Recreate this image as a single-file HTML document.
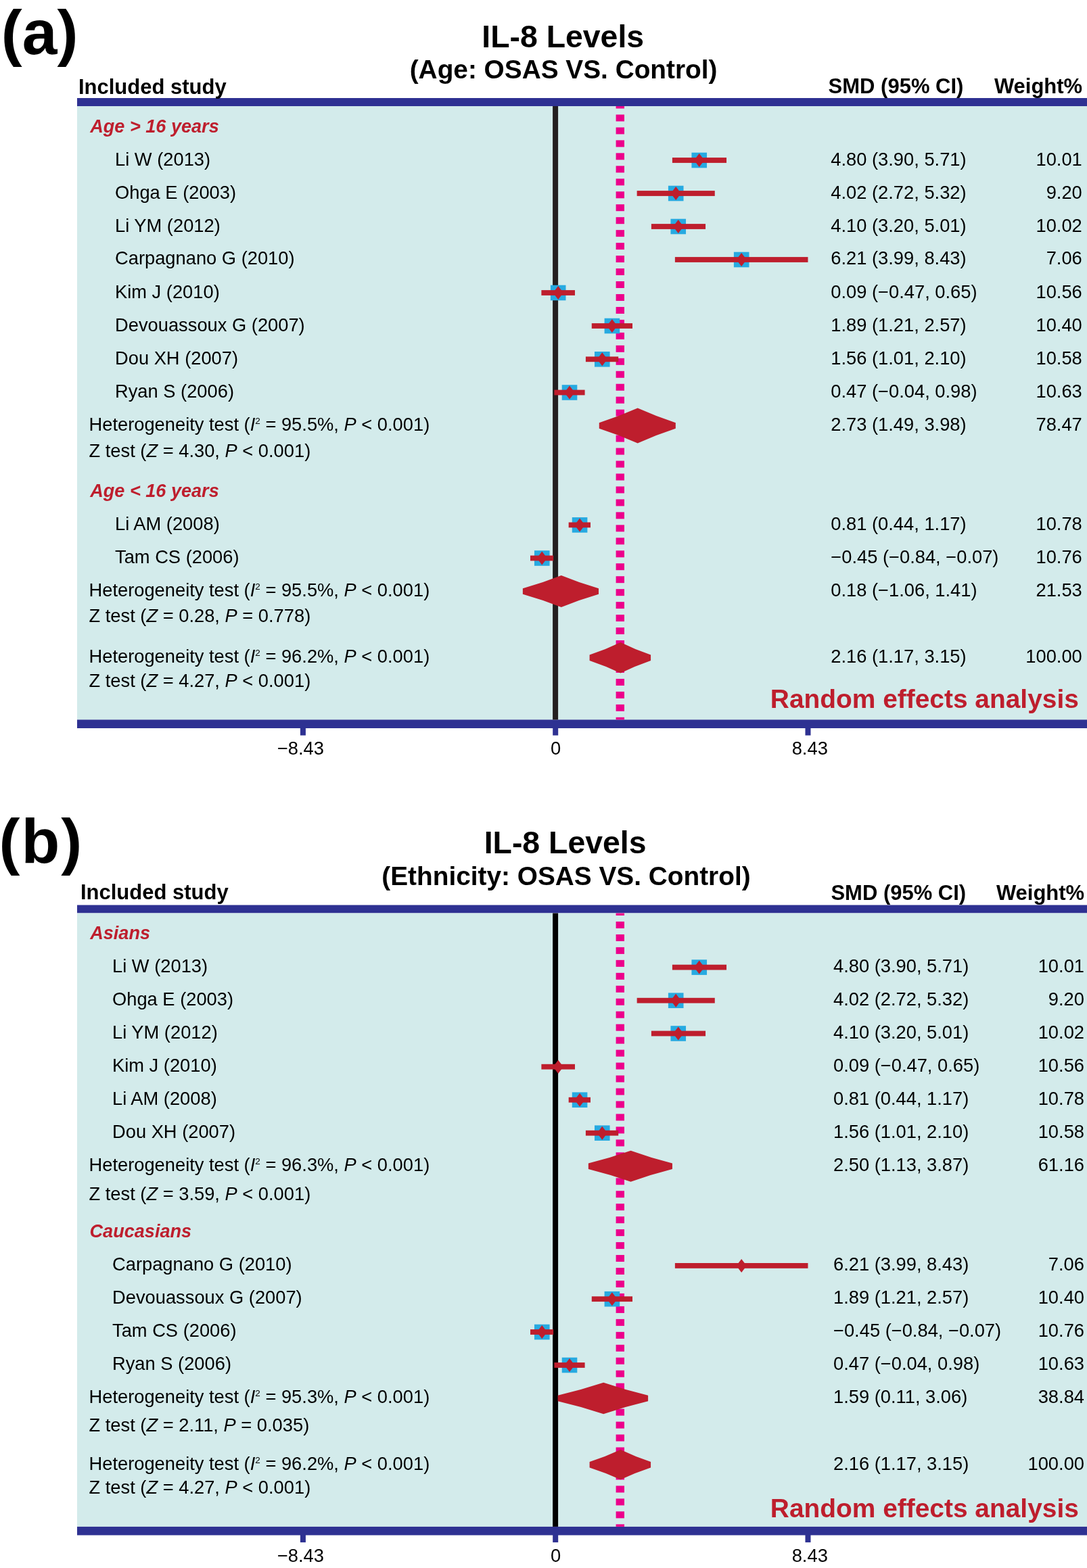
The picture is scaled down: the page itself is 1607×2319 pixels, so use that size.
<!DOCTYPE html>
<html><head><meta charset="utf-8"><title>IL-8 Levels forest plots</title>
<style>html,body{margin:0;padding:0;background:#fff;}body{width:1607px;height:2319px;overflow:hidden;}svg{display:block;}</style>
</head><body>
<svg width="1607" height="2319" viewBox="0 0 1607 2319" font-family="Liberation Sans, Arial, Helvetica, sans-serif">
<rect x="0.00" y="0.00" width="1607.00" height="2319.00" fill="#fff"/>
<rect x="114.00" y="145.00" width="1493.00" height="12.00" fill="#2e3192"/>
<rect x="114.00" y="157.00" width="1493.00" height="907.40" fill="#d3ebeb"/>
<rect x="114.00" y="1064.40" width="1493.00" height="12.60" fill="#2e3192"/>
<rect x="443.92" y="1076.40" width="8.00" height="11.20" fill="#2e3192"/>
<rect x="817.20" y="1076.40" width="8.00" height="11.20" fill="#2e3192"/>
<rect x="1190.48" y="1076.40" width="8.00" height="11.20" fill="#2e3192"/>
<rect x="817.10" y="157.00" width="8.00" height="907.40" fill="#231f20"/>
<g fill="#ec008c">
<rect x="910.6" y="157.00" width="12.4" height="3.50"/>
<rect x="910.6" y="169.47" width="12.4" height="10.00"/>
<rect x="910.6" y="188.43" width="12.4" height="10.00"/>
<rect x="910.6" y="207.40" width="12.4" height="10.00"/>
<rect x="910.6" y="226.36" width="12.4" height="10.00"/>
<rect x="910.6" y="245.33" width="12.4" height="10.00"/>
<rect x="910.6" y="264.29" width="12.4" height="10.00"/>
<rect x="910.6" y="283.25" width="12.4" height="10.00"/>
<rect x="910.6" y="302.22" width="12.4" height="10.00"/>
<rect x="910.6" y="321.18" width="12.4" height="10.00"/>
<rect x="910.6" y="340.15" width="12.4" height="10.00"/>
<rect x="910.6" y="359.11" width="12.4" height="10.00"/>
<rect x="910.6" y="378.08" width="12.4" height="10.00"/>
<rect x="910.6" y="397.04" width="12.4" height="10.00"/>
<rect x="910.6" y="416.01" width="12.4" height="10.00"/>
<rect x="910.6" y="434.97" width="12.4" height="10.00"/>
<rect x="910.6" y="453.94" width="12.4" height="10.00"/>
<rect x="910.6" y="472.90" width="12.4" height="10.00"/>
<rect x="910.6" y="491.87" width="12.4" height="10.00"/>
<rect x="910.6" y="510.83" width="12.4" height="10.00"/>
<rect x="910.6" y="529.80" width="12.4" height="10.00"/>
<rect x="910.6" y="548.76" width="12.4" height="10.00"/>
<rect x="910.6" y="567.73" width="12.4" height="10.00"/>
<rect x="910.6" y="586.69" width="12.4" height="10.00"/>
<rect x="910.6" y="605.66" width="12.4" height="10.00"/>
<rect x="910.6" y="624.62" width="12.4" height="10.00"/>
<rect x="910.6" y="643.59" width="12.4" height="10.00"/>
<rect x="910.6" y="662.55" width="12.4" height="10.00"/>
<rect x="910.6" y="681.52" width="12.4" height="10.00"/>
<rect x="910.6" y="700.49" width="12.4" height="10.00"/>
<rect x="910.6" y="719.45" width="12.4" height="10.00"/>
<rect x="910.6" y="738.42" width="12.4" height="10.00"/>
<rect x="910.6" y="757.38" width="12.4" height="10.00"/>
<rect x="910.6" y="776.35" width="12.4" height="10.00"/>
<rect x="910.6" y="795.31" width="12.4" height="10.00"/>
<rect x="910.6" y="814.28" width="12.4" height="10.00"/>
<rect x="910.6" y="833.24" width="12.4" height="10.00"/>
<rect x="910.6" y="852.21" width="12.4" height="10.00"/>
<rect x="910.6" y="871.17" width="12.4" height="10.00"/>
<rect x="910.6" y="890.14" width="12.4" height="10.00"/>
<rect x="910.6" y="909.10" width="12.4" height="10.00"/>
<rect x="910.6" y="928.07" width="12.4" height="10.00"/>
<rect x="910.6" y="947.03" width="12.4" height="10.00"/>
<rect x="910.6" y="966.00" width="12.4" height="10.00"/>
<rect x="910.6" y="984.96" width="12.4" height="10.00"/>
<rect x="910.6" y="1003.93" width="12.4" height="10.00"/>
<rect x="910.6" y="1022.89" width="12.4" height="10.00"/>
<rect x="910.6" y="1041.86" width="12.4" height="10.00"/>
<rect x="910.6" y="1060.82" width="12.4" height="3.58"/>
</g>
<rect x="1022.44" y="225.70" width="22.60" height="22.60" fill="#27aae1"/>
<rect x="993.89" y="233.10" width="80.15" height="7.80" fill="#be1e2d"/>
<polygon points="1026.14,237.00 1033.74,227.00 1041.34,237.00 1033.74,247.00" fill="#be1e2d"/>
<rect x="987.91" y="274.70" width="22.60" height="22.60" fill="#27aae1"/>
<rect x="941.64" y="282.10" width="115.13" height="7.80" fill="#be1e2d"/>
<polygon points="991.61,286.00 999.21,276.00 1006.81,286.00 999.21,296.00" fill="#be1e2d"/>
<rect x="991.45" y="323.70" width="22.60" height="22.60" fill="#27aae1"/>
<rect x="962.90" y="331.10" width="80.15" height="7.80" fill="#be1e2d"/>
<polygon points="995.15,335.00 1002.75,325.00 1010.35,335.00 1002.75,345.00" fill="#be1e2d"/>
<rect x="1084.88" y="372.70" width="22.60" height="22.60" fill="#27aae1"/>
<rect x="997.88" y="380.10" width="196.60" height="7.80" fill="#be1e2d"/>
<polygon points="1088.58,384.00 1096.18,374.00 1103.78,384.00 1096.18,394.00" fill="#be1e2d"/>
<rect x="813.89" y="421.70" width="22.60" height="22.60" fill="#27aae1"/>
<rect x="800.39" y="429.10" width="49.59" height="7.80" fill="#be1e2d"/>
<polygon points="817.59,433.00 825.19,423.00 832.79,433.00 825.19,443.00" fill="#be1e2d"/>
<rect x="893.59" y="470.70" width="22.60" height="22.60" fill="#27aae1"/>
<rect x="874.78" y="478.10" width="60.22" height="7.80" fill="#be1e2d"/>
<polygon points="897.29,482.00 904.89,472.00 912.49,482.00 904.89,492.00" fill="#be1e2d"/>
<rect x="878.98" y="520.00" width="22.60" height="22.60" fill="#27aae1"/>
<rect x="865.92" y="527.40" width="48.27" height="7.80" fill="#be1e2d"/>
<polygon points="882.68,531.30 890.28,521.30 897.88,531.30 890.28,541.30" fill="#be1e2d"/>
<rect x="830.71" y="569.20" width="22.60" height="22.60" fill="#27aae1"/>
<rect x="819.43" y="576.60" width="45.17" height="7.80" fill="#be1e2d"/>
<polygon points="834.41,580.50 842.01,570.50 849.61,580.50 842.01,590.50" fill="#be1e2d"/>
<rect x="845.77" y="765.10" width="22.60" height="22.60" fill="#27aae1"/>
<rect x="840.68" y="772.50" width="32.32" height="7.80" fill="#be1e2d"/>
<polygon points="849.47,776.40 857.07,766.40 864.67,776.40 857.07,786.40" fill="#be1e2d"/>
<rect x="789.97" y="814.20" width="22.60" height="22.60" fill="#27aae1"/>
<rect x="784.00" y="821.60" width="34.10" height="7.80" fill="#be1e2d"/>
<polygon points="793.67,825.50 801.27,815.50 808.87,825.50 801.27,835.50" fill="#be1e2d"/>
<path d="M 885.78 625.30 Q 914.80 615.94 942.68 603.60 Q 970.18 615.94 998.83 625.30 L 998.83 633.70 Q 970.18 643.06 942.68 655.40 Q 914.80 643.06 885.78 633.70 Z" fill="#be1e2d"/>
<path d="M 772.86 870.30 Q 801.83 862.17 829.77 851.00 Q 856.88 862.16 885.03 870.30 L 885.03 878.70 Q 856.88 886.84 829.77 898.00 Q 801.83 886.83 772.86 878.70 Z" fill="#be1e2d"/>
<path d="M 871.61 968.50 Q 895.13 960.68 917.44 949.90 Q 939.15 960.68 962.08 968.50 L 962.08 976.90 Q 939.15 984.72 917.44 995.50 Q 895.13 984.72 871.61 976.90 Z" fill="#be1e2d"/>
<text x="1.70" y="80.00" font-size="93" font-weight="bold" font-style="normal" text-anchor="start" fill="#000">(a)</text>
<text x="712.30" y="69.70" font-size="46.4" font-weight="bold" font-style="normal" text-anchor="start" fill="#000">IL-8 Levels</text>
<text x="605.70" y="116.10" font-size="38.8" font-weight="bold" font-style="normal" text-anchor="start" fill="#000">(Age: OSAS VS. Control)</text>
<text x="115.90" y="139.00" font-size="31" font-weight="bold" font-style="normal" text-anchor="start" fill="#000">Included study</text>
<text x="1224.60" y="138.30" font-size="31" font-weight="bold" font-style="normal" text-anchor="start" fill="#000">SMD (95% CI)</text>
<text x="1600.20" y="138.30" font-size="31" font-weight="bold" font-style="normal" text-anchor="end" fill="#000">Weight%</text>
<text x="133.20" y="195.90" font-size="27.1" font-weight="bold" font-style="italic" text-anchor="start" fill="#be1e2d">Age &gt; 16 years</text>
<text x="133.20" y="735.10" font-size="27.1" font-weight="bold" font-style="italic" text-anchor="start" fill="#be1e2d">Age &lt; 16 years</text>
<text x="170.00" y="244.70" font-size="27.3" font-weight="normal" font-style="normal" text-anchor="start" fill="#000">Li W (2013)</text>
<text x="1228.30" y="244.70" font-size="27.3" font-weight="normal" font-style="normal" text-anchor="start" fill="#000">4.80 (3.90, 5.71)</text>
<text x="1599.80" y="244.70" font-size="27.3" font-weight="normal" font-style="normal" text-anchor="end" fill="#000">10.01</text>
<text x="170.00" y="293.60" font-size="27.3" font-weight="normal" font-style="normal" text-anchor="start" fill="#000">Ohga E (2003)</text>
<text x="1228.30" y="293.60" font-size="27.3" font-weight="normal" font-style="normal" text-anchor="start" fill="#000">4.02 (2.72, 5.32)</text>
<text x="1599.80" y="293.60" font-size="27.3" font-weight="normal" font-style="normal" text-anchor="end" fill="#000">9.20</text>
<text x="170.00" y="342.50" font-size="27.3" font-weight="normal" font-style="normal" text-anchor="start" fill="#000">Li YM (2012)</text>
<text x="1228.30" y="342.50" font-size="27.3" font-weight="normal" font-style="normal" text-anchor="start" fill="#000">4.10 (3.20, 5.01)</text>
<text x="1599.80" y="342.50" font-size="27.3" font-weight="normal" font-style="normal" text-anchor="end" fill="#000">10.02</text>
<text x="170.00" y="391.40" font-size="27.3" font-weight="normal" font-style="normal" text-anchor="start" fill="#000">Carpagnano G (2010)</text>
<text x="1228.30" y="391.40" font-size="27.3" font-weight="normal" font-style="normal" text-anchor="start" fill="#000">6.21 (3.99, 8.43)</text>
<text x="1599.80" y="391.40" font-size="27.3" font-weight="normal" font-style="normal" text-anchor="end" fill="#000">7.06</text>
<text x="170.00" y="440.70" font-size="27.3" font-weight="normal" font-style="normal" text-anchor="start" fill="#000">Kim J (2010)</text>
<text x="1228.30" y="440.70" font-size="27.3" font-weight="normal" font-style="normal" text-anchor="start" fill="#000">0.09 (&#8722;0.47, 0.65)</text>
<text x="1599.80" y="440.70" font-size="27.3" font-weight="normal" font-style="normal" text-anchor="end" fill="#000">10.56</text>
<text x="170.00" y="490.00" font-size="27.3" font-weight="normal" font-style="normal" text-anchor="start" fill="#000">Devouassoux G (2007)</text>
<text x="1228.30" y="490.00" font-size="27.3" font-weight="normal" font-style="normal" text-anchor="start" fill="#000">1.89 (1.21, 2.57)</text>
<text x="1599.80" y="490.00" font-size="27.3" font-weight="normal" font-style="normal" text-anchor="end" fill="#000">10.40</text>
<text x="170.00" y="539.10" font-size="27.3" font-weight="normal" font-style="normal" text-anchor="start" fill="#000">Dou XH (2007)</text>
<text x="1228.30" y="539.10" font-size="27.3" font-weight="normal" font-style="normal" text-anchor="start" fill="#000">1.56 (1.01, 2.10)</text>
<text x="1599.80" y="539.10" font-size="27.3" font-weight="normal" font-style="normal" text-anchor="end" fill="#000">10.58</text>
<text x="170.00" y="588.30" font-size="27.3" font-weight="normal" font-style="normal" text-anchor="start" fill="#000">Ryan S (2006)</text>
<text x="1228.30" y="588.30" font-size="27.3" font-weight="normal" font-style="normal" text-anchor="start" fill="#000">0.47 (&#8722;0.04, 0.98)</text>
<text x="1599.80" y="588.30" font-size="27.3" font-weight="normal" font-style="normal" text-anchor="end" fill="#000">10.63</text>
<text x="170.00" y="784.00" font-size="27.3" font-weight="normal" font-style="normal" text-anchor="start" fill="#000">Li AM (2008)</text>
<text x="1228.30" y="784.00" font-size="27.3" font-weight="normal" font-style="normal" text-anchor="start" fill="#000">0.81 (0.44, 1.17)</text>
<text x="1599.80" y="784.00" font-size="27.3" font-weight="normal" font-style="normal" text-anchor="end" fill="#000">10.78</text>
<text x="170.00" y="833.00" font-size="27.3" font-weight="normal" font-style="normal" text-anchor="start" fill="#000">Tam CS (2006)</text>
<text x="1228.30" y="833.00" font-size="27.3" font-weight="normal" font-style="normal" text-anchor="start" fill="#000">&#8722;0.45 (&#8722;0.84, &#8722;0.07)</text>
<text x="1599.80" y="833.00" font-size="27.3" font-weight="normal" font-style="normal" text-anchor="end" fill="#000">10.76</text>
<text x="131.50" y="637.00" font-size="27.3">Heterogeneity test (<tspan font-style="italic">I</tspan><tspan font-size="13.5" dy="-9.7">2</tspan><tspan dy="9.7"> = 95.5%, </tspan><tspan font-style="italic">P</tspan> &lt; 0.001)</text>
<text x="1228.30" y="637.00" font-size="27.3" font-weight="normal" font-style="normal" text-anchor="start" fill="#000">2.73 (1.49, 3.98)</text>
<text x="1599.80" y="637.00" font-size="27.3" font-weight="normal" font-style="normal" text-anchor="end" fill="#000">78.47</text>
<text x="131.50" y="676.00" font-size="27.3">Z test (<tspan font-style="italic">Z</tspan> = 4.30, <tspan font-style="italic">P</tspan> &lt; 0.001)</text>
<text x="131.50" y="882.00" font-size="27.3">Heterogeneity test (<tspan font-style="italic">I</tspan><tspan font-size="13.5" dy="-9.7">2</tspan><tspan dy="9.7"> = 95.5%, </tspan><tspan font-style="italic">P</tspan> &lt; 0.001)</text>
<text x="1228.30" y="882.00" font-size="27.3" font-weight="normal" font-style="normal" text-anchor="start" fill="#000">0.18 (&#8722;1.06, 1.41)</text>
<text x="1599.80" y="882.00" font-size="27.3" font-weight="normal" font-style="normal" text-anchor="end" fill="#000">21.53</text>
<text x="131.50" y="920.00" font-size="27.3">Z test (<tspan font-style="italic">Z</tspan> = 0.28, <tspan font-style="italic">P</tspan> = 0.778)</text>
<text x="131.50" y="980.00" font-size="27.3">Heterogeneity test (<tspan font-style="italic">I</tspan><tspan font-size="13.5" dy="-9.7">2</tspan><tspan dy="9.7"> = 96.2%, </tspan><tspan font-style="italic">P</tspan> &lt; 0.001)</text>
<text x="1228.30" y="980.00" font-size="27.3" font-weight="normal" font-style="normal" text-anchor="start" fill="#000">2.16 (1.17, 3.15)</text>
<text x="1599.80" y="980.00" font-size="27.3" font-weight="normal" font-style="normal" text-anchor="end" fill="#000">100.00</text>
<text x="131.50" y="1016.30" font-size="27.3">Z test (<tspan font-style="italic">Z</tspan> = 4.27, <tspan font-style="italic">P</tspan> &lt; 0.001)</text>
<text x="1138.80" y="1047.40" font-size="38.9" font-weight="bold" font-style="normal" text-anchor="start" fill="#be1e2d">Random effects analysis</text>
<text x="409.90" y="1116.40" font-size="27.3" font-weight="normal" font-style="normal" text-anchor="start" fill="#000">&#8722;8.43</text>
<text x="813.90" y="1116.40" font-size="27.3" font-weight="normal" font-style="normal" text-anchor="start" fill="#000">0</text>
<text x="1170.70" y="1116.40" font-size="27.3" font-weight="normal" font-style="normal" text-anchor="start" fill="#000">8.43</text>
<rect x="114.00" y="1338.50" width="1493.00" height="12.00" fill="#2e3192"/>
<rect x="114.00" y="1350.50" width="1493.00" height="907.40" fill="#d3ebeb"/>
<rect x="114.00" y="2257.90" width="1493.00" height="12.60" fill="#2e3192"/>
<rect x="443.92" y="2269.90" width="8.00" height="11.20" fill="#2e3192"/>
<rect x="817.20" y="2269.90" width="8.00" height="11.20" fill="#2e3192"/>
<rect x="1190.48" y="2269.90" width="8.00" height="11.20" fill="#2e3192"/>
<rect x="817.10" y="1350.50" width="8.00" height="907.40" fill="#000"/>
<g fill="#ec008c">
<rect x="910.6" y="1350.50" width="12.4" height="3.50"/>
<rect x="910.6" y="1362.96" width="12.4" height="10.00"/>
<rect x="910.6" y="1381.93" width="12.4" height="10.00"/>
<rect x="910.6" y="1400.89" width="12.4" height="10.00"/>
<rect x="910.6" y="1419.86" width="12.4" height="10.00"/>
<rect x="910.6" y="1438.82" width="12.4" height="10.00"/>
<rect x="910.6" y="1457.79" width="12.4" height="10.00"/>
<rect x="910.6" y="1476.75" width="12.4" height="10.00"/>
<rect x="910.6" y="1495.72" width="12.4" height="10.00"/>
<rect x="910.6" y="1514.68" width="12.4" height="10.00"/>
<rect x="910.6" y="1533.65" width="12.4" height="10.00"/>
<rect x="910.6" y="1552.61" width="12.4" height="10.00"/>
<rect x="910.6" y="1571.58" width="12.4" height="10.00"/>
<rect x="910.6" y="1590.54" width="12.4" height="10.00"/>
<rect x="910.6" y="1609.51" width="12.4" height="10.00"/>
<rect x="910.6" y="1628.47" width="12.4" height="10.00"/>
<rect x="910.6" y="1647.44" width="12.4" height="10.00"/>
<rect x="910.6" y="1666.40" width="12.4" height="10.00"/>
<rect x="910.6" y="1685.37" width="12.4" height="10.00"/>
<rect x="910.6" y="1704.33" width="12.4" height="10.00"/>
<rect x="910.6" y="1723.30" width="12.4" height="10.00"/>
<rect x="910.6" y="1742.26" width="12.4" height="10.00"/>
<rect x="910.6" y="1761.23" width="12.4" height="10.00"/>
<rect x="910.6" y="1780.19" width="12.4" height="10.00"/>
<rect x="910.6" y="1799.16" width="12.4" height="10.00"/>
<rect x="910.6" y="1818.12" width="12.4" height="10.00"/>
<rect x="910.6" y="1837.09" width="12.4" height="10.00"/>
<rect x="910.6" y="1856.05" width="12.4" height="10.00"/>
<rect x="910.6" y="1875.02" width="12.4" height="10.00"/>
<rect x="910.6" y="1893.98" width="12.4" height="10.00"/>
<rect x="910.6" y="1912.95" width="12.4" height="10.00"/>
<rect x="910.6" y="1931.91" width="12.4" height="10.00"/>
<rect x="910.6" y="1950.88" width="12.4" height="10.00"/>
<rect x="910.6" y="1969.84" width="12.4" height="10.00"/>
<rect x="910.6" y="1988.81" width="12.4" height="10.00"/>
<rect x="910.6" y="2007.77" width="12.4" height="10.00"/>
<rect x="910.6" y="2026.74" width="12.4" height="10.00"/>
<rect x="910.6" y="2045.70" width="12.4" height="10.00"/>
<rect x="910.6" y="2064.67" width="12.4" height="10.00"/>
<rect x="910.6" y="2083.63" width="12.4" height="10.00"/>
<rect x="910.6" y="2102.60" width="12.4" height="10.00"/>
<rect x="910.6" y="2121.56" width="12.4" height="10.00"/>
<rect x="910.6" y="2140.53" width="12.4" height="10.00"/>
<rect x="910.6" y="2159.49" width="12.4" height="10.00"/>
<rect x="910.6" y="2178.46" width="12.4" height="10.00"/>
<rect x="910.6" y="2197.42" width="12.4" height="10.00"/>
<rect x="910.6" y="2216.39" width="12.4" height="10.00"/>
<rect x="910.6" y="2235.35" width="12.4" height="10.00"/>
<rect x="910.6" y="2254.32" width="12.4" height="3.58"/>
</g>
<rect x="1022.44" y="1419.30" width="22.60" height="22.60" fill="#27aae1"/>
<rect x="993.89" y="1426.70" width="80.15" height="7.80" fill="#be1e2d"/>
<polygon points="1026.14,1430.60 1033.74,1420.60 1041.34,1430.60 1033.74,1440.60" fill="#be1e2d"/>
<rect x="987.91" y="1468.40" width="22.60" height="22.60" fill="#27aae1"/>
<rect x="941.64" y="1475.80" width="115.13" height="7.80" fill="#be1e2d"/>
<polygon points="991.61,1479.70 999.21,1469.70 1006.81,1479.70 999.21,1489.70" fill="#be1e2d"/>
<rect x="991.45" y="1517.20" width="22.60" height="22.60" fill="#27aae1"/>
<rect x="962.90" y="1524.60" width="80.15" height="7.80" fill="#be1e2d"/>
<polygon points="995.15,1528.50 1002.75,1518.50 1010.35,1528.50 1002.75,1538.50" fill="#be1e2d"/>
<rect x="800.39" y="1573.80" width="49.59" height="7.80" fill="#be1e2d"/>
<polygon points="817.59,1577.70 825.19,1567.70 832.79,1577.70 825.19,1587.70" fill="#be1e2d"/>
<rect x="845.77" y="1615.40" width="22.60" height="22.60" fill="#27aae1"/>
<rect x="840.68" y="1622.80" width="32.32" height="7.80" fill="#be1e2d"/>
<polygon points="849.47,1626.70 857.07,1616.70 864.67,1626.70 857.07,1636.70" fill="#be1e2d"/>
<rect x="878.98" y="1664.40" width="22.60" height="22.60" fill="#27aae1"/>
<rect x="865.92" y="1671.80" width="48.27" height="7.80" fill="#be1e2d"/>
<polygon points="882.68,1675.70 890.28,1665.70 897.88,1675.70 890.28,1685.70" fill="#be1e2d"/>
<rect x="997.88" y="1868.00" width="196.60" height="7.80" fill="#be1e2d"/>
<polygon points="1088.58,1871.90 1096.18,1861.90 1103.78,1871.90 1096.18,1881.90" fill="#be1e2d"/>
<rect x="893.59" y="1909.90" width="22.60" height="22.60" fill="#27aae1"/>
<rect x="874.78" y="1917.30" width="60.22" height="7.80" fill="#be1e2d"/>
<polygon points="897.29,1921.20 904.89,1911.20 912.49,1921.20 904.89,1931.20" fill="#be1e2d"/>
<rect x="789.97" y="1958.70" width="22.60" height="22.60" fill="#27aae1"/>
<rect x="784.00" y="1966.10" width="34.10" height="7.80" fill="#be1e2d"/>
<polygon points="793.67,1970.00 801.27,1960.00 808.87,1970.00 801.27,1980.00" fill="#be1e2d"/>
<rect x="830.71" y="2007.70" width="22.60" height="22.60" fill="#27aae1"/>
<rect x="819.43" y="2015.10" width="45.17" height="7.80" fill="#be1e2d"/>
<polygon points="834.41,2019.00 842.01,2009.00 849.61,2019.00 842.01,2029.00" fill="#be1e2d"/>
<path d="M 869.84 1720.60 Q 901.63 1712.73 932.50 1701.80 Q 962.76 1712.73 993.96 1720.60 L 993.96 1729.00 Q 962.76 1736.87 932.50 1747.80 Q 901.63 1736.87 869.84 1729.00 Z" fill="#be1e2d"/>
<path d="M 824.67 2063.80 Q 858.87 2055.87 892.21 2044.85 Q 924.71 2055.86 958.10 2063.80 L 958.10 2072.20 Q 924.71 2080.14 892.21 2091.15 Q 858.87 2080.13 824.67 2072.20 Z" fill="#be1e2d"/>
<path d="M 871.61 2162.00 Q 895.11 2154.51 917.44 2144.05 Q 939.17 2154.51 962.08 2162.00 L 962.08 2170.40 Q 939.17 2177.89 917.44 2188.35 Q 895.11 2177.89 871.61 2170.40 Z" fill="#be1e2d"/>
<text x="-1.60" y="1276.00" font-size="93" font-weight="bold" font-style="normal" text-anchor="start" fill="#000" letter-spacing="2">(b)</text>
<text x="715.70" y="1262.10" font-size="46.4" font-weight="bold" font-style="normal" text-anchor="start" fill="#000">IL-8 Levels</text>
<text x="564.30" y="1308.60" font-size="38.8" font-weight="bold" font-style="normal" text-anchor="start" fill="#000">(Ethnicity: OSAS VS. Control)</text>
<text x="118.90" y="1330.40" font-size="31" font-weight="bold" font-style="normal" text-anchor="start" fill="#000">Included study</text>
<text x="1228.40" y="1330.80" font-size="31" font-weight="bold" font-style="normal" text-anchor="start" fill="#000">SMD (95% CI)</text>
<text x="1603.20" y="1330.80" font-size="31" font-weight="bold" font-style="normal" text-anchor="end" fill="#000">Weight%</text>
<text x="133.20" y="1388.90" font-size="27.1" font-weight="bold" font-style="italic" text-anchor="start" fill="#be1e2d">Asians</text>
<text x="132.50" y="1829.80" font-size="27.1" font-weight="bold" font-style="italic" text-anchor="start" fill="#be1e2d">Caucasians</text>
<text x="166.00" y="1437.70" font-size="27.3" font-weight="normal" font-style="normal" text-anchor="start" fill="#000">Li W (2013)</text>
<text x="1232.00" y="1437.70" font-size="27.3" font-weight="normal" font-style="normal" text-anchor="start" fill="#000">4.80 (3.90, 5.71)</text>
<text x="1603.00" y="1437.70" font-size="27.3" font-weight="normal" font-style="normal" text-anchor="end" fill="#000">10.01</text>
<text x="166.00" y="1486.60" font-size="27.3" font-weight="normal" font-style="normal" text-anchor="start" fill="#000">Ohga E (2003)</text>
<text x="1232.00" y="1486.60" font-size="27.3" font-weight="normal" font-style="normal" text-anchor="start" fill="#000">4.02 (2.72, 5.32)</text>
<text x="1603.00" y="1486.60" font-size="27.3" font-weight="normal" font-style="normal" text-anchor="end" fill="#000">9.20</text>
<text x="166.00" y="1535.50" font-size="27.3" font-weight="normal" font-style="normal" text-anchor="start" fill="#000">Li YM (2012)</text>
<text x="1232.00" y="1535.50" font-size="27.3" font-weight="normal" font-style="normal" text-anchor="start" fill="#000">4.10 (3.20, 5.01)</text>
<text x="1603.00" y="1535.50" font-size="27.3" font-weight="normal" font-style="normal" text-anchor="end" fill="#000">10.02</text>
<text x="166.00" y="1584.50" font-size="27.3" font-weight="normal" font-style="normal" text-anchor="start" fill="#000">Kim J (2010)</text>
<text x="1232.00" y="1584.50" font-size="27.3" font-weight="normal" font-style="normal" text-anchor="start" fill="#000">0.09 (&#8722;0.47, 0.65)</text>
<text x="1603.00" y="1584.50" font-size="27.3" font-weight="normal" font-style="normal" text-anchor="end" fill="#000">10.56</text>
<text x="166.00" y="1633.60" font-size="27.3" font-weight="normal" font-style="normal" text-anchor="start" fill="#000">Li AM (2008)</text>
<text x="1232.00" y="1633.60" font-size="27.3" font-weight="normal" font-style="normal" text-anchor="start" fill="#000">0.81 (0.44, 1.17)</text>
<text x="1603.00" y="1633.60" font-size="27.3" font-weight="normal" font-style="normal" text-anchor="end" fill="#000">10.78</text>
<text x="166.00" y="1682.60" font-size="27.3" font-weight="normal" font-style="normal" text-anchor="start" fill="#000">Dou XH (2007)</text>
<text x="1232.00" y="1682.60" font-size="27.3" font-weight="normal" font-style="normal" text-anchor="start" fill="#000">1.56 (1.01, 2.10)</text>
<text x="1603.00" y="1682.60" font-size="27.3" font-weight="normal" font-style="normal" text-anchor="end" fill="#000">10.58</text>
<text x="166.00" y="1878.90" font-size="27.3" font-weight="normal" font-style="normal" text-anchor="start" fill="#000">Carpagnano G (2010)</text>
<text x="1232.00" y="1878.90" font-size="27.3" font-weight="normal" font-style="normal" text-anchor="start" fill="#000">6.21 (3.99, 8.43)</text>
<text x="1603.00" y="1878.90" font-size="27.3" font-weight="normal" font-style="normal" text-anchor="end" fill="#000">7.06</text>
<text x="166.00" y="1927.60" font-size="27.3" font-weight="normal" font-style="normal" text-anchor="start" fill="#000">Devouassoux G (2007)</text>
<text x="1232.00" y="1927.60" font-size="27.3" font-weight="normal" font-style="normal" text-anchor="start" fill="#000">1.89 (1.21, 2.57)</text>
<text x="1603.00" y="1927.60" font-size="27.3" font-weight="normal" font-style="normal" text-anchor="end" fill="#000">10.40</text>
<text x="166.00" y="1976.80" font-size="27.3" font-weight="normal" font-style="normal" text-anchor="start" fill="#000">Tam CS (2006)</text>
<text x="1232.00" y="1976.80" font-size="27.3" font-weight="normal" font-style="normal" text-anchor="start" fill="#000">&#8722;0.45 (&#8722;0.84, &#8722;0.07)</text>
<text x="1603.00" y="1976.80" font-size="27.3" font-weight="normal" font-style="normal" text-anchor="end" fill="#000">10.76</text>
<text x="166.00" y="2026.00" font-size="27.3" font-weight="normal" font-style="normal" text-anchor="start" fill="#000">Ryan S (2006)</text>
<text x="1232.00" y="2026.00" font-size="27.3" font-weight="normal" font-style="normal" text-anchor="start" fill="#000">0.47 (&#8722;0.04, 0.98)</text>
<text x="1603.00" y="2026.00" font-size="27.3" font-weight="normal" font-style="normal" text-anchor="end" fill="#000">10.63</text>
<text x="131.50" y="1732.00" font-size="27.3">Heterogeneity test (<tspan font-style="italic">I</tspan><tspan font-size="13.5" dy="-9.7">2</tspan><tspan dy="9.7"> = 96.3%, </tspan><tspan font-style="italic">P</tspan> &lt; 0.001)</text>
<text x="1232.00" y="1732.00" font-size="27.3" font-weight="normal" font-style="normal" text-anchor="start" fill="#000">2.50 (1.13, 3.87)</text>
<text x="1603.00" y="1732.00" font-size="27.3" font-weight="normal" font-style="normal" text-anchor="end" fill="#000">61.16</text>
<text x="131.50" y="1774.60" font-size="27.3">Z test (<tspan font-style="italic">Z</tspan> = 3.59, <tspan font-style="italic">P</tspan> &lt; 0.001)</text>
<text x="131.50" y="2075.00" font-size="27.3">Heterogeneity test (<tspan font-style="italic">I</tspan><tspan font-size="13.5" dy="-9.7">2</tspan><tspan dy="9.7"> = 95.3%, </tspan><tspan font-style="italic">P</tspan> &lt; 0.001)</text>
<text x="1232.00" y="2075.00" font-size="27.3" font-weight="normal" font-style="normal" text-anchor="start" fill="#000">1.59 (0.11, 3.06)</text>
<text x="1603.00" y="2075.00" font-size="27.3" font-weight="normal" font-style="normal" text-anchor="end" fill="#000">38.84</text>
<text x="131.50" y="2117.20" font-size="27.3">Z test (<tspan font-style="italic">Z</tspan> = 2.11, <tspan font-style="italic">P</tspan> = 0.035)</text>
<text x="131.50" y="2173.60" font-size="27.3">Heterogeneity test (<tspan font-style="italic">I</tspan><tspan font-size="13.5" dy="-9.7">2</tspan><tspan dy="9.7"> = 96.2%, </tspan><tspan font-style="italic">P</tspan> &lt; 0.001)</text>
<text x="1232.00" y="2173.60" font-size="27.3" font-weight="normal" font-style="normal" text-anchor="start" fill="#000">2.16 (1.17, 3.15)</text>
<text x="1603.00" y="2173.60" font-size="27.3" font-weight="normal" font-style="normal" text-anchor="end" fill="#000">100.00</text>
<text x="131.50" y="2209.00" font-size="27.3">Z test (<tspan font-style="italic">Z</tspan> = 4.27, <tspan font-style="italic">P</tspan> &lt; 0.001)</text>
<text x="1138.80" y="2244.10" font-size="38.9" font-weight="bold" font-style="normal" text-anchor="start" fill="#be1e2d">Random effects analysis</text>
<text x="409.90" y="2310.20" font-size="27.3" font-weight="normal" font-style="normal" text-anchor="start" fill="#000">&#8722;8.43</text>
<text x="813.90" y="2310.20" font-size="27.3" font-weight="normal" font-style="normal" text-anchor="start" fill="#000">0</text>
<text x="1170.70" y="2310.20" font-size="27.3" font-weight="normal" font-style="normal" text-anchor="start" fill="#000">8.43</text>
</svg>
</body></html>
